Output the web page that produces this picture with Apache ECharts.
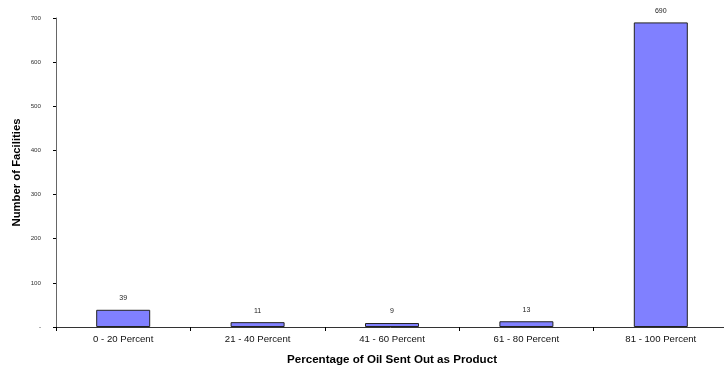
<!DOCTYPE html>
<html><head><meta charset="utf-8">
<script src="https://cdn.jsdelivr.net/npm/echarts@6/dist/echarts.min.js"></script>
<style>html,body{margin:0;padding:0;background:#fff}#c{width:724px;height:371px}</style>
</head><body><div id="c"></div>
<script>
const categories = ['0 - 20 Percent','21 - 40 Percent','41 - 60 Percent','61 - 80 Percent','81 - 100 Percent'];
const facilities = [39, 11, 9, 13, 690];
const yTicks = [0,100,200,300,400,500,600,700];

const chart = echarts.init(document.getElementById('c'));
chart.setOption({
  animation:false,
  textStyle:{fontFamily:'Liberation Sans, Arial, sans-serif'},
  grid:{left:56, top:18, width:672, height:309, containLabel:false, outerBoundsMode:'none'},
  xAxis:{
    type:'category', data:categories,
    name:'Percentage of Oil Sent Out as Product', nameLocation:'middle', nameGap:27,
    nameTextStyle:{fontSize:11.6, fontWeight:'bold', color:'#000'},
    axisLine:{lineStyle:{color:'#333', width:1}},
    axisTick:{show:true, length:4, lineStyle:{color:'#000'}},
    axisLabel:{fontSize:9.6, color:'#111', margin:7}
  },
  yAxis:{
    type:'value', min:0, max:700, interval:100,
    name:'Number of Facilities', nameLocation:'middle', nameGap:34, nameMoveOverlap:false,
    nameTextStyle:{fontSize:11.3, fontWeight:'bold', color:'#000'},
    axisLine:{show:true, lineStyle:{color:'#666', width:1}},
    axisTick:{show:true, length:3, lineStyle:{color:'#000'}},
    splitLine:{show:false},
    axisLabel:{fontSize:6.2, color:'#333', margin:15, formatter:v=>yTicks.includes(v)&&v===0?'-':String(v)}
  },
  series:[{
    type:'bar', data:facilities, barWidth:54,
    itemStyle:{color:'#8080FF', borderColor:'#222', borderWidth:1},
    label:{show:true, position:'top', distance:8, fontSize:7, color:'#222'}
  }]
});
</script></body></html>
